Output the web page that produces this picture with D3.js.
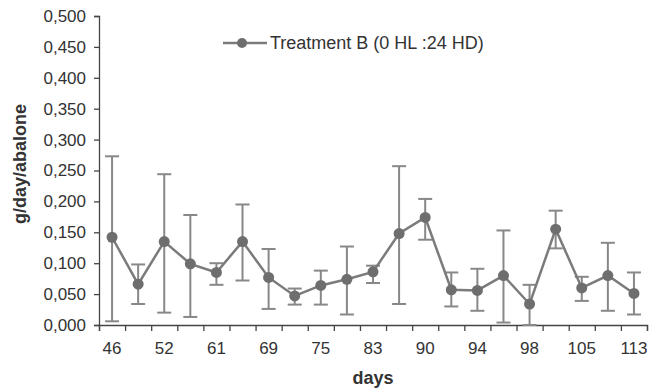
<!DOCTYPE html>
<html>
<head>
<meta charset="utf-8">
<script src="https://cdn.jsdelivr.net/npm/d3@7"></script>
<style>
  body { margin: 0; background: #fff; }
  text { font-family: "Liberation Sans", Arial, sans-serif; fill: #333; }
</style>
</head>
<body>
<main></main>
<script>
// day labels (only every other sampling point is labelled on the axis)
const dayLabels = ["46", "", "52", "", "61", "", "69", "", "75", "", "83", "", "90", "", "94", "", "98", "", "105", "", "113"];
const growth = [0.142, 0.066, 0.135, 0.099, 0.085, 0.135, 0.077, 0.047, 0.064, 0.074, 0.086,
                0.148, 0.174, 0.057, 0.056, 0.080, 0.034, 0.155, 0.060, 0.080, 0.051];
const errTop = [0.273, 0.098, 0.244, 0.178, 0.100, 0.195, 0.123, 0.059, 0.088, 0.127, 0.096,
                0.257, 0.204, 0.085, 0.091, 0.153, 0.065, 0.185, 0.078, 0.133, 0.085];
const errBottom = [0.006, 0.034, 0.020, 0.013, 0.065, 0.072, 0.026, 0.033, 0.033, 0.017, 0.068,
                   0.034, 0.138, 0.030, 0.023, 0.004, 0.000, 0.124, 0.039, 0.023, 0.017];
const seriesName = "Treatment B (0 HL :24 HD)";

const w = 656;
const h = 389;
const m = { left: 99, right: 647, top: 16, bottom: 325 };
const grey = "#7b7b7b";

const svg = d3.select("main")
  .append("svg")
  .attr("width", w)
  .attr("height", h);

const idx = d3.range(growth.length);

const x = d3.scaleBand()
  .domain(idx)
  .range([m.left, m.right]);

const xEdge = d3.scaleLinear()
  .domain([0, growth.length])
  .range([m.left, m.right]);

const y = d3.scaleLinear()
  .domain([0, 0.5])
  .range([m.bottom, m.top]);

const cx = i => x(i) + x.bandwidth() / 2;
const fmt = d => d3.format(".3f")(d).replace(".", ",");

// y axis
svg.append("g")
  .attr("transform", `translate(${m.left},0)`)
  .call(d3.axisLeft(y).tickValues(d3.range(0, 0.5001, 0.05)).tickFormat(fmt).tickSize(5).tickPadding(8));

// x axis: boundary ticks + centred labels
svg.append("g")
  .attr("transform", `translate(0,${m.bottom})`)
  .call(d3.axisBottom(xEdge).tickValues(d3.range(growth.length + 1)).tickFormat("").tickSize(6).tickSizeOuter(6));

const xLabels = svg.append("g")
  .attr("transform", `translate(0,${m.bottom})`)
  .call(d3.axisBottom(x).tickSize(0).tickPadding(17).tickFormat(i => dayLabels[i]));
xLabels.select(".domain").remove();

svg.selectAll(".domain, .tick line")
  .attr("stroke", "#444")
  .attr("stroke-width", 1.3);
svg.selectAll(".tick text")
  .style("font-size", "17px")
  .attr("fill", "#333");

// error bars
const bars = svg.append("g")
  .selectAll("g")
  .data(idx)
  .enter()
  .append("g")
  .attr("stroke", "#888")
  .attr("stroke-width", 2);

bars.append("line")
  .attr("x1", cx).attr("x2", cx)
  .attr("y1", i => y(errTop[i]))
  .attr("y2", i => y(errBottom[i]));
bars.append("line")
  .attr("x1", i => cx(i) - 7).attr("x2", i => cx(i) + 7)
  .attr("y1", i => y(errTop[i])).attr("y2", i => y(errTop[i]));
bars.append("line")
  .attr("x1", i => cx(i) - 7).attr("x2", i => cx(i) + 7)
  .attr("y1", i => y(errBottom[i])).attr("y2", i => y(errBottom[i]));

// series line and markers
svg.append("path")
  .datum(idx)
  .attr("fill", "none")
  .attr("stroke", grey)
  .attr("stroke-width", 2.5)
  .attr("d", d3.line().x(cx).y(i => y(growth[i])));

svg.selectAll("circle.pt")
  .data(idx)
  .enter()
  .append("circle")
  .attr("class", "pt")
  .attr("cx", cx)
  .attr("cy", i => y(growth[i]))
  .attr("r", 5.5)
  .attr("fill", "#6e6e6e");

// legend
const legend = svg.append("g");
legend.append("line")
  .attr("x1", 223).attr("x2", 267)
  .attr("y1", 43).attr("y2", 43)
  .attr("stroke", grey)
  .attr("stroke-width", 2.5);
legend.append("circle")
  .attr("cx", 242).attr("cy", 43).attr("r", 5)
  .attr("fill", "#6e6e6e");
legend.append("text")
  .attr("x", 270).attr("y", 49)
  .style("font-size", "18px")
  .text(seriesName);

// axis titles
svg.append("text")
  .attr("x", (m.left + m.right) / 2)
  .attr("y", 384)
  .attr("text-anchor", "middle")
  .style("font-size", "18px")
  .style("font-weight", "bold")
  .text("days");

svg.append("text")
  .attr("transform", "translate(26,164)rotate(-90)")
  .attr("text-anchor", "middle")
  .style("font-size", "18px")
  .style("font-weight", "bold")
  .text("g/day/abalone");
</script>
</body>
</html>
